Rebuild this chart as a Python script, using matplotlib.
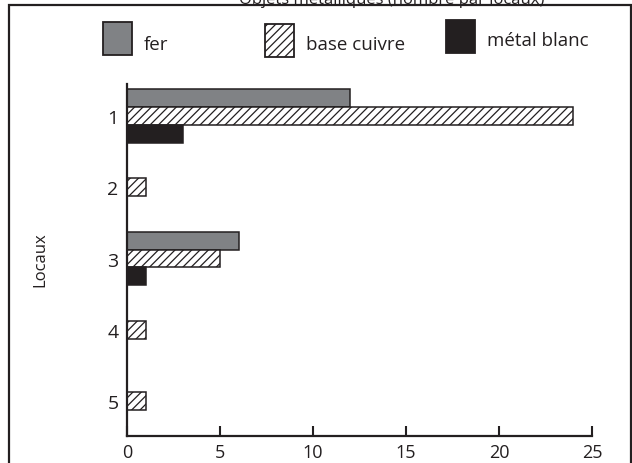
import matplotlib
matplotlib.use("Agg")
import matplotlib.pyplot as plt
from matplotlib.patches import Rectangle
import numpy as np

plt.rcParams['font.family'] = ['Open Sans', 'DejaVu Sans']
plt.rcParams['hatch.linewidth'] = 0.9
plt.rcParams['hatch.color'] = '#231f20'

locaux = ['1', '2', '3', '4', '5']
fer = [12, 0, 6, 0, 0]
base_cuivre = [24, 1, 5, 1, 1]
metal_blanc = [3, 0, 1, 0, 0]
series_names = ['fer', 'base cuivre', 'métal blanc']
x_ticks = [0, 5, 10, 15, 20, 25]
title = 'Objets métalliques (nombre par locaux)'

INK = '#231f20'
GRAY = '#808285'

fig = plt.figure(figsize=(6.32, 4.64), dpi=100)
ax = fig.add_axes([127/632, 1-437/464, (592-127)/632, (437-85)/464])

y = np.arange(1, len(locaux)+1)
h = 0.25
ax.barh(y - h, fer, height=h, color=GRAY, edgecolor=INK, linewidth=1.1)
ax.barh(y, base_cuivre, height=h, color='white', edgecolor=INK, hatch='////', linewidth=1.1)
ax.barh(y + h, metal_blanc, height=h, color=INK, edgecolor=INK, linewidth=1.1)

ax.set_ylim(5.49, 0.55)
ax.set_xlim(0, 25)
ax.set_xticks(x_ticks)
ax.set_yticks(y)
ax.set_yticklabels(locaux)
ax.tick_params(axis='y', length=0, pad=6, labelsize=14, colors=INK)
ax.tick_params(axis='x', direction='in', length=7, width=1.5, labelsize=13, colors=INK, pad=5)
for s in ['top', 'right']:
    ax.spines[s].set_visible(False)
for s in ['left', 'bottom']:
    ax.spines[s].set_linewidth(1.6)
    ax.spines[s].set_color(INK)

fig.text(40/632, 1-260/464, 'Locaux', rotation=90, ha='center', va='center', fontsize=12, color=INK)

fig.text(392/632, 1-3.5/464, title, ha='center', va='baseline', fontsize=12, color=INK)

# legend (manual, matching reference placement)
W, H = 632.0, 464.0
legend_items = [
    (series_names[0], dict(facecolor=GRAY, edgecolor=INK, hatch=None), 103, 23, 144),
    (series_names[1], dict(facecolor='white', edgecolor=INK, hatch='////'), 265, 25, 306),
    (series_names[2], dict(facecolor=INK, edgecolor=INK, hatch=None), 446, 21, 487),
]
for name, style, x0, y0, tx in legend_items:
    r = Rectangle((x0/W, 1-(y0+33)/H), 29/W, 33/H, transform=fig.transFigure,
                  linewidth=1.3, **style)
    fig.patches.append(r)
    ty = 41 if name == series_names[2] else 45
    fig.text(tx/W, 1-ty/H, name, ha='left', va='center', fontsize=13.5, color=INK)

fig.patches.append(Rectangle((9/W, -0.01), (631-9)/W, 1-6/H+0.01, transform=fig.transFigure,
                             fill=False, edgecolor=INK, linewidth=1.6))

fig.savefig('out.png', dpi=100)
